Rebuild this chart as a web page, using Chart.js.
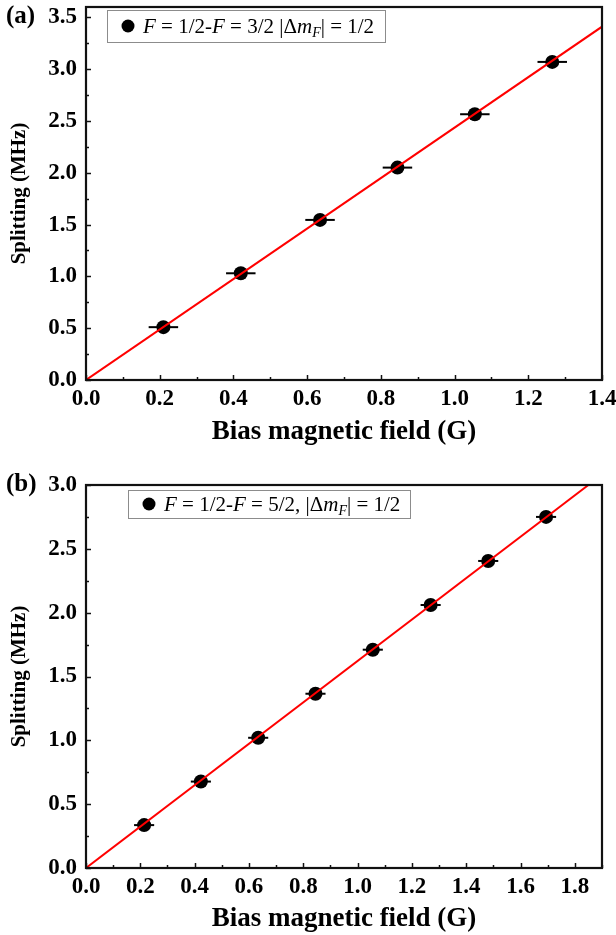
<!DOCTYPE html>
<html><head><meta charset="utf-8">
<script src="https://cdn.jsdelivr.net/npm/chart.js@4.4.1/dist/chart.umd.min.js"></script>
<style>
html,body{margin:0;padding:0;background:#fff;}
#wrap{position:relative;width:616px;height:935px;}
canvas{position:absolute;left:0;}
</style></head>
<body>
<div id="wrap">
<canvas id="ca" width="616" height="467" style="top:0"></canvas>
<canvas id="cb" width="616" height="468" style="top:467px"></canvas>
</div>
<script>
// ---- Panel (a) data ----
const xA = [0.21, 0.42, 0.635, 0.845, 1.055, 1.265];
const yA = [0.51, 1.03, 1.545, 2.05, 2.565, 3.07];
const xErrA = [0.04, 0.04, 0.04, 0.04, 0.04, 0.04];
const fitXA = [0, 1.4];
const fitYA = [0, 3.41];
const xTicksA = [0, 0.2, 0.4, 0.6, 0.8, 1.0, 1.2, 1.4];
const yTicksA = [0, 0.5, 1.0, 1.5, 2.0, 2.5, 3.0, 3.5];

// ---- Panel (b) data ----
const xB = [0.214, 0.423, 0.634, 0.845, 1.056, 1.269, 1.481, 1.694];
const yB = [0.336, 0.677, 1.02, 1.365, 1.71, 2.06, 2.405, 2.75];
const xErrB = [0.037, 0.037, 0.037, 0.037, 0.037, 0.037, 0.037, 0.037];
const fitXB = [0, 1.85];
const fitYB = [0, 3.0];
const xTicksB = [0, 0.2, 0.4, 0.6, 0.8, 1.0, 1.2, 1.4, 1.6, 1.8];
const yTicksB = [0, 0.5, 1.0, 1.5, 2.0, 2.5, 3.0];

const xTitle = 'Bias magnetic field (G)';
const yTitle = 'Splitting (MHz)';
const legendA = [['F',1],[' = 1/2-',0],['F',1],[' = 3/2 |Δ',0],['m',1],['F',2],['| = 1/2',0]];
const legendB = [['F',1],[' = 1/2-',0],['F',1],[' = 5/2, |Δ',0],['m',1],['F',2],['| = 1/2',0]];

const SERIF = "'Liberation Serif','Times New Roman',serif";
const tickFont = {family: SERIF, size: 23, weight: 'bold'};
const xTitleFont = {family: SERIF, size: 27, weight: 'bold'};
const yTitleFont = {family: SERIF, size: 21, weight: 'bold'};

function framePlugin(label, labelY, legendSegs, box, minorX, minorY) {
  return {
    id: 'frame',
    beforeDatasetsDraw(chart) {
      const ctx = chart.ctx, xs = chart.scales.x, ys = chart.scales.y;
      const ds = chart.data.datasets[1];
      ctx.save();
      ctx.strokeStyle = '#000'; ctx.lineWidth = 2;
      ds.data.forEach(p => {
        const py = ys.getPixelForValue(p.y);
        ctx.beginPath();
        ctx.moveTo(xs.getPixelForValue(p.x - p.ex), py);
        ctx.lineTo(xs.getPixelForValue(p.x + p.ex), py);
        ctx.stroke();
      });
      ctx.restore();
    },
    afterDraw(chart) {
      const ctx = chart.ctx, a = chart.chartArea, xs = chart.scales.x, ys = chart.scales.y;
      ctx.save();
      ctx.strokeStyle = '#111';
      ctx.lineWidth = 1.5;
      xs.ticks.forEach(t => {
        const px = Math.round(xs.getPixelForValue(t.value)) + 0.5;
        ctx.beginPath(); ctx.moveTo(px, a.bottom); ctx.lineTo(px, a.bottom - 5); ctx.stroke();
      });
      ys.ticks.forEach(t => {
        const py = Math.round(ys.getPixelForValue(t.value)) + 0.5;
        ctx.beginPath(); ctx.moveTo(a.left, py); ctx.lineTo(a.left + 5, py); ctx.stroke();
      });
      for (let v = minorX; v < xs.max; v += 2 * minorX) {
        const px = Math.round(xs.getPixelForValue(v)) + 0.5;
        ctx.beginPath(); ctx.moveTo(px, a.bottom); ctx.lineTo(px, a.bottom - 3); ctx.stroke();
      }
      for (let v = minorY; v < ys.max; v += 2 * minorY) {
        const py = Math.round(ys.getPixelForValue(v)) + 0.5;
        ctx.beginPath(); ctx.moveTo(a.left, py); ctx.lineTo(a.left + 3, py); ctx.stroke();
      }
      ctx.lineWidth = 2.2;
      ctx.strokeRect(a.left, a.top, a.right - a.left, a.bottom - a.top);
      ctx.fillStyle = '#000';
      ctx.font = "bold 25px " + SERIF;
      ctx.textBaseline = 'middle'; ctx.textAlign = 'left';
      ctx.fillText(label, 6, labelY);
      // legend box
      ctx.fillStyle = '#fff';
      ctx.fillRect(box.x, box.y, box.w, box.h);
      ctx.strokeStyle = '#8c8c8c'; ctx.lineWidth = 1;
      ctx.strokeRect(box.x + 0.5, box.y + 0.5, box.w, box.h);
      const cy = box.y + box.h / 2;
      ctx.fillStyle = '#000';
      ctx.beginPath(); ctx.arc(box.x + 21, cy, 6.5, 0, Math.PI * 2); ctx.fill();
      let x = box.x + 36;
      ctx.textBaseline = 'alphabetic';
      const base = cy + 7;
      legendSegs.forEach(([t, st]) => {
        if (st === 2) {
          ctx.font = "italic 14px " + SERIF;
          ctx.fillText(t, x, base + 4);
        } else {
          ctx.font = (st === 1 ? "italic " : "") + "21px " + SERIF;
          ctx.fillText(t, x, base);
        }
        x += ctx.measureText(t).width;
      });
      ctx.restore();
    }
  };
}

function makeChart(id, xs, ys, errs, fx, fy, xT, yT, xMax, yMax, pad, xH, yW, titlePadB, label, labelY, legendSegs, box, minorX, minorY) {
  return new Chart(document.getElementById(id), {
    type: 'scatter',
    data: {
      datasets: [
        {type: 'line', data: fx.map((x, i) => ({x, y: fy[i]})), borderColor: '#ff0000', borderWidth: 2,
         pointRadius: 0, fill: false, tension: 0},
        {data: xs.map((x, i) => ({x, y: ys[i], ex: errs[i]})), backgroundColor: '#000', borderWidth: 0,
         pointRadius: 7, pointHoverRadius: 7}
      ]
    },
    options: {
      responsive: false, animation: false, events: [],
      layout: {padding: pad},
      plugins: {legend: {display: false}, tooltip: {enabled: false}},
      scales: {
        x: {
          type: 'linear', min: 0, max: xMax,
          afterBuildTicks: s => { s.ticks = xT.map(v => ({value: v})); },
          afterFit: s => { s.height = xH; s.paddingLeft = 0; s.paddingRight = 0; },
          grid: {display: false, drawTicks: false}, border: {display: false},
          ticks: {font: tickFont, color: '#000', padding: 5, maxRotation: 0, autoSkip: false,
                  callback: v => Number(v).toFixed(1)},
          title: {display: true, text: xTitle, font: xTitleFont, color: '#000', padding: {top: 0, bottom: titlePadB}}
        },
        y: {
          type: 'linear', min: 0, max: yMax,
          afterBuildTicks: s => { s.ticks = yT.map(v => ({value: v})); },
          afterFit: s => { s.width = yW; s.paddingTop = 0; s.paddingBottom = 0; },
          grid: {display: false, drawTicks: false}, border: {display: false},
          ticks: {font: tickFont, color: '#000', padding: 9, autoSkip: false,
                  callback: v => Number(v).toFixed(1)},
          title: {display: true, text: yTitle, font: yTitleFont, color: '#000', padding: {top: 7, bottom: 0}}
        }
      }
    },
    plugins: [framePlugin(label, labelY, legendSegs, box, minorX, minorY)]
  });
}

makeChart('ca', xA, yA, xErrA, fitXA, fitYA, xTicksA, yTicksA, 1.4, 3.6,
  {left: 0, right: 14, top: 6, bottom: 0}, 87, 86, 19, '(a)', 17, legendA,
  {x: 107, y: 10, w: 278, h: 32}, 0.1, 0.25);
makeChart('cb', xB, yB, xErrB, fitXB, fitYB, xTicksB, yTicksB, 1.9, 3.0,
  {left: 0, right: 14, top: 18, bottom: 0}, 67, 86, 0, '(b)', 18, legendB,
  {x: 128, y: 23, w: 282, h: 28}, 0.1, 0.25);
</script>
</body></html>
